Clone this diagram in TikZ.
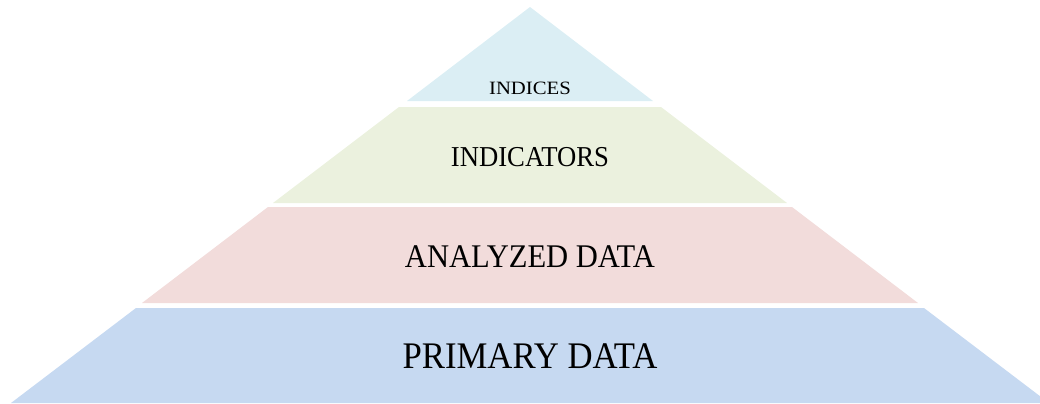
\documentclass[tikz,border=0pt]{standalone}
\usepackage{fontspec}
\setmainfont{Liberation Serif}
\newfontfamily\layerfont[FakeStretch=0.925]{Liberation Serif}
\newfontfamily\tipfont[FakeStretch=1.1]{Liberation Serif}
\usepackage{tikz}
\usetikzlibrary{positioning}

\definecolor{tipblue}{HTML}{DBEEF4}
\definecolor{layergreen}{HTML}{EBF1DE}
\definecolor{layerred}{HTML}{F2DCDB}
\definecolor{layerblue}{HTML}{C6D9F1}

\begin{document}
\begin{tikzpicture}[x=0.025cm, y=-0.025cm,
    layer label/.style={anchor=base, inner sep=0pt, text=black}]

       \useasboundingbox (0,0) rectangle (1040,403);

       % the four layers of the pyramid
       \fill[tipblue] (530,7) -- (653,101) -- (407,101) -- cycle;
       \fill[layergreen] (399,107) -- (661,107) -- (787,203) -- (273,203) -- cycle;
       \fill[layerred] (268,207) -- (792,207) -- (918,303) -- (142,303) -- cycle;
       \fill[layerblue] (136,308) -- (924,308) -- (1049,403) -- (11,403) -- cycle;

       \node[layer label, font=\tipfont\fontsize{13.4}{14}\selectfont] (indices) at (530,94) {INDICES};
       \node[layer label, font=\layerfont\fontsize{20.5}{22}\selectfont] (indicators) at (530,166) {INDICATORS};
       \node[layer label, font=\layerfont\fontsize{23.5}{26}\selectfont] (analyzed) at (530,267) {ANALYZED DATA};
       \node[layer label, font=\layerfont\fontsize{26.7}{30}\selectfont] (primary) at (530,368) {PRIMARY DATA};

\end{tikzpicture}
\end{document}
